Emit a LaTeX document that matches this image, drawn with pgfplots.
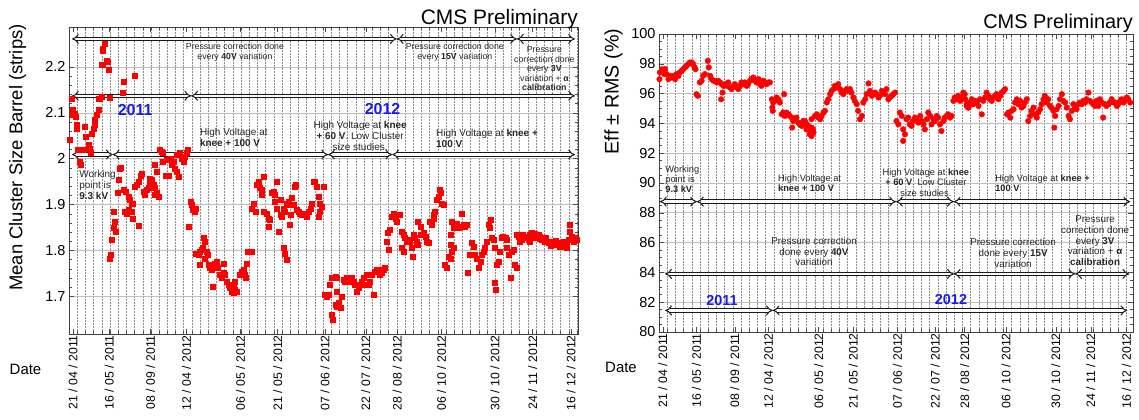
\documentclass[border=0pt]{standalone}
\usepackage{fontspec}
\setmainfont{Liberation Sans}
\usepackage{pgfplots}
\pgfplotsset{compat=1.18}
\usetikzlibrary{arrows.meta}
\definecolor{gridgray}{RGB}{140,140,140}
\definecolor{yearblue}{RGB}{25,25,240}
\tikzset{
 dbl/.style={draw=black!90, double=white, double distance=2.4bp, line width=1bp, {Implies}-{Implies}},
 annL/.style={font=\fontsize{8.8}{9.6}\selectfont, align=center, text=black!85, inner sep=0pt},
 annLH/.style={font=\fontsize{10}{11}\selectfont, align=left, text=black!85, inner sep=0pt},
 annR/.style={font=\fontsize{9.9}{10.8}\selectfont, align=center, text=black!85, inner sep=0pt},
 annRH/.style={font=\fontsize{9.3}{10.3}\selectfont, align=left, text=black!85, inner sep=0pt},
 yearL/.style={font=\fontsize{16}{16}\selectfont\bfseries, text=yearblue, inner sep=0pt},
 yearR/.style={font=\fontsize{14.5}{14.5}\selectfont\bfseries, text=yearblue, inner sep=0pt},
}
\pgfplotsset{
 panel/.style={
  scale only axis, clip=false,
  xmin=0, xmax=1000,
  xtick={8,79,160,231,337,410,503,583,645,732,837,911,986},
  xticklabels={21 / 04 / 2011,16 / 05 / 2011,08 / 09 / 2011,12 / 04 / 2012,06 / 05 / 2012,21 / 05 / 2012,07 / 06 / 2012,22 / 07 / 2012,28 / 08 / 2012,06 / 10 / 2012,30 / 10 / 2012,24 / 11 / 2012,16 / 12 / 2012},
  xticklabel style={rotate=90, anchor=east, font=\fontsize{12.3}{12.3}\selectfont, inner sep=1bp},
  yticklabel style={font=\fontsize{14.5}{14.5}\selectfont},
  /pgf/number format/assume math mode=true,
  xminorgrids, ymajorgrids,
  minor x grid style={gridgray, dash pattern=on 1.5bp off 1.5bp, line width=0.5bp},
  major y grid style={black!25, line width=0.6bp},
  axis line style={black!75, line width=0.8bp},
  major tick length=5bp, minor tick length=3bp,
  tick style={black!70, line width=0.5bp},
 }
}
\begin{document}
\begin{tikzpicture}
\path[use as bounding box] (0,0) rectangle (1139bp,420bp);

% ---------------- left panel ----------------
\begin{axis}[panel,
  at={(69bp,86bp)}, anchor=south west, width=509bp, height=307bp,
  ymin=1.618, ymax=2.287,
  ytick={1.7,1.8,1.9,2.0,2.1,2.2},
  minor y tick num=4,
  minor xtick={16.1,32.2,...,1000},
]
\addplot[only marks, mark=square*, mark size=2.5bp, color=red] table {
x y
2 2.041
5 2.131
7 2.106
8 2.095
12 2.099
14 2.091
15 2.073
16 2.066
18 2.019
22 2.019
25 2.019
22 1.993
23 1.986
28 2.019
31 2.070
33 2.048
38 2.030
41 2.022
43 2.012
45 2.055
48 2.066
50 2.073
51 2.084
54 2.095
58 2.106
58 2.131
61 2.131
64 2.135
79 2.133
64 2.204
67 2.204
66 2.236
71 2.251
67 2.240
74 2.214
77 2.211
78 2.194
105 2.144
107 2.167
130 2.180
82 1.791
79 1.783
84 1.823
87 1.849
90 1.863
92 1.841
88 1.885
97 1.954
100 1.979
102 1.980
95 1.925
107 1.932
112 1.928
110 1.885
113 1.881
117 1.888
123 1.885
125 1.870
117 1.917
120 1.910
123 1.903
126 1.903
130 1.939
133 1.943
136 1.950
140 1.964
143 1.968
137 1.854
146 1.928
149 1.921
153 1.932
156 1.936
159 1.943
162 1.939
166 1.943
169 1.936
169 1.921
172 1.925
176 1.917
158 1.957
162 1.954
169 1.986
173 1.972
179 2.019
182 2.015
185 2.012
189 1.964
192 1.964
195 1.964
185 1.993
192 1.997
199 2.001
205 1.993
202 1.986
208 1.979
211 1.972
215 1.961
211 2.008
218 2.012
221 2.001
225 1.993
228 2.004
231 2.012
234 2.019
239 1.907
241 1.899
244 1.888
246 1.885
248 1.892
236 1.852
264 1.827
267 1.820
263 1.805
249 1.794
254 1.791
257 1.798
261 1.801
270 1.798
272 1.791
267 1.783
256 1.769
274 1.769
277 1.762
280 1.758
284 1.765
287 1.772
290 1.776
282 1.722
293 1.762
297 1.747
300 1.740
303 1.751
306 1.747
310 1.733
313 1.725
316 1.718
320 1.711
323 1.707
326 1.733
303 1.772
320 1.725
323 1.718
326 1.714
330 1.711
336 1.747
339 1.754
343 1.758
346 1.747
348 1.740
349 1.772
352 1.798
356 1.798
359 1.798
359 1.892
362 1.903
366 1.885
369 1.943
372 1.950
375 1.936
379 1.921
382 1.961
379 1.932
382 1.885
388 1.881
392 1.870
395 1.867
392 1.852
398 1.925
402 1.928
405 1.921
408 1.950
405 1.907
408 1.892
415 1.878
418 1.874
411 1.841
421 1.892
424 1.885
428 1.903
431 1.907
434 1.899
421 1.805
424 1.794
428 1.780
434 1.856
436 1.878
444 1.939
446 1.943
441 1.899
447 1.888
451 1.885
454 1.881
457 1.878
461 1.881
464 1.878
467 1.874
470 1.885
474 1.892
477 1.903
480 1.950
483 1.950
487 1.939
490 1.917
493 1.903
497 1.896
500 1.939
490 1.874
492 1.885
415 1.910
438 1.914
503 1.704
506 1.700
510 1.704
513 1.725
516 1.740
523 1.743
526 1.740
516 1.660
519 1.649
523 1.682
526 1.678
529 1.686
533 1.675
526 1.711
536 1.700
539 1.736
542 1.733
546 1.740
549 1.733
552 1.736
555 1.740
559 1.733
562 1.725
565 1.711
569 1.718
572 1.725
575 1.733
578 1.740
582 1.725
585 1.747
588 1.725
591 1.733
595 1.747
598 1.704
601 1.754
605 1.758
608 1.758
611 1.747
614 1.751
618 1.758
621 1.762
624 1.820
627 1.838
631 1.845
629 1.801
634 1.874
637 1.881
641 1.870
644 1.863
647 1.878
650 1.878
654 1.841
657 1.834
660 1.827
654 1.805
657 1.798
664 1.820
667 1.823
670 1.820
673 1.805
675 1.787
677 1.834
680 1.827
683 1.820
686 1.812
690 1.834
686 1.863
690 1.852
693 1.834
696 1.838
700 1.830
703 1.820
706 1.816
709 1.863
713 1.856
716 1.878
719 1.885
716 1.870
722 1.910
726 1.917
729 1.932
731 1.925
732 1.903
736 1.899
739 1.769
742 1.762
745 1.787
749 1.783
749 1.834
752 1.863
755 1.849
758 1.856
762 1.859
765 1.849
768 1.852
772 1.881
775 1.856
778 1.852
781 1.856
749 1.812
752 1.798
755 1.805
783 1.751
788 1.791
791 1.816
795 1.809
798 1.791
801 1.783
804 1.762
808 1.776
811 1.791
814 1.798
817 1.805
821 1.820
824 1.856
826 1.849
829 1.867
831 1.827
834 1.823
837 1.805
837 1.729
839 1.714
840 1.769
844 1.776
847 1.798
850 1.827
853 1.830
857 1.827
860 1.823
860 1.805
863 1.791
867 1.740
870 1.798
873 1.801
876 1.769
880 1.762
880 1.834
883 1.830
886 1.827
890 1.823
893 1.827
896 1.830
899 1.827
903 1.823
906 1.834
909 1.838
912 1.830
916 1.827
919 1.827
922 1.834
925 1.830
929 1.823
932 1.823
935 1.820
939 1.820
942 1.816
945 1.820
948 1.816
952 1.820
955 1.812
958 1.816
962 1.812
965 1.809
968 1.812
971 1.820
975 1.809
978 1.805
981 1.823
984 1.841
984 1.856
988 1.830
991 1.820
994 1.827
998 1.823
885 1.820
891 1.834
905 1.820
914 1.836
924 1.825
937 1.827
946 1.811
957 1.821
966 1.818
977 1.814
};
% annotation arrows
\draw[dbl] (6,2.261) -- (644,2.261);
\draw[dbl] (644,2.261) -- (880,2.261);
\draw[dbl] (880,2.261) -- (994,2.261);
\draw[dbl] (6,2.137) -- (240,2.137);
\draw[dbl] (240,2.137) -- (994,2.137);
\draw[dbl] (6,2.009) -- (86,2.009);
\draw[dbl] (86,2.009) -- (509,2.009);
\draw[dbl] (509,2.009) -- (635,2.009);
\draw[dbl] (635,2.009) -- (994,2.009);
\node[annL] at (326,2.2315) {Pressure correction done\\every \textbf{40V} variation};
\node[annL] at (758,2.2315) {Pressure correction done\\every \textbf{15V} variation};
\node[annL] at (934,2.196) {Pressure\\correction done\\every \textbf{3V}\\variation + \textbf{α}\\\textbf{calibration}};
\node[yearL] at (130,2.1065) {2011};
\node[yearL] at (616,2.109) {2012};
\node[annLH, anchor=west] at (257,2.0467) {High Voltage at\\\textbf{knee + 100 V}};
\node[annLH, align=center] at (572,2.05) {High Voltage at \textbf{knee}\\\textbf{+ 60 V}. Low Cluster\\size studies.};
\node[annLH, anchor=west] at (721,2.0446) {High Voltage at \textbf{knee +}\\\textbf{100 V}};
\node[annLH, anchor=west] at (20,1.9435) {Working\\point is\\\textbf{9.3 kV}};
\end{axis}

% ---------------- right panel ----------------
\begin{axis}[panel,
  at={(659bp,88bp)}, anchor=south west, width=474bp, height=298bp,
  ymin=80, ymax=100,
  ytick={80,82,...,100},
  minor y tick num=3,
  minor xtick={17.3,34.6,...,1000},
]
\addplot[only marks, mark=*, mark size=2.8bp, color=red] table {
x y
1 96.97
2 97.42
6 97.64
9 97.53
11 97.31
13 97.64
16 97.31
20 96.97
23 97.19
27 97.08
30 97.19
34 96.97
37 97.31
41 97.19
44 97.42
48 97.53
51 97.64
55 97.76
58 97.87
62 97.98
65 98.09
69 98.09
72 97.98
75 97.76
77 97.64
79 95.96
82 95.85
86 96.75
90 96.86
93 97.19
97 97.31
103 98.20
105 97.76
108 97.19
111 96.97
115 96.86
118 96.86
122 96.75
125 96.86
129 96.75
132 96.63
131 95.62
134 96.07
136 96.52
139 96.63
143 96.52
146 96.75
150 96.41
153 96.30
157 96.52
160 96.63
164 96.41
167 96.30
171 96.52
174 96.75
178 96.63
181 96.75
185 96.52
188 96.63
192 96.86
195 96.97
199 97.08
202 96.86
206 96.75
210 96.97
213 96.63
216 96.52
220 96.86
224 96.75
227 96.63
231 96.75
234 96.75
238 95.62
241 95.40
240 94.84
239 95.06
245 95.51
248 95.74
252 95.62
255 95.40
259 94.61
262 94.73
264 95.96
266 94.50
269 94.73
273 94.61
276 94.50
280 94.39
281 93.72
283 94.16
287 94.28
290 94.39
294 94.05
297 93.94
301 93.83
304 94.16
308 93.94
311 93.60
315 93.72
318 93.27
322 94.28
325 93.60
308 94.16
312 93.94
315 93.83
319 93.60
322 93.72
322 93.15
326 93.38
329 94.50
333 94.61
336 94.39
340 94.28
343 94.50
347 94.73
350 94.84
354 95.40
357 95.62
361 95.96
364 96.18
368 96.30
371 96.52
375 96.41
378 96.63
382 96.30
385 96.07
389 95.96
392 96.18
396 96.30
399 96.18
403 96.30
406 96.07
410 95.74
413 95.51
417 95.29
420 94.84
424 94.28
428 94.50
431 95.40
435 95.62
438 95.96
442 96.68
445 96.18
449 95.85
452 95.96
456 96.07
459 95.96
463 95.74
466 95.85
470 96.18
473 96.07
477 95.96
480 96.30
484 95.62
487 95.74
491 95.85
494 95.96
498 96.07
501 94.16
505 93.94
508 94.73
512 94.50
515 93.60
515 92.82
519 93.27
522 94.28
526 94.39
529 93.94
533 93.83
536 94.16
540 94.39
543 94.28
547 94.05
551 94.50
554 94.16
558 93.94
561 93.60
565 94.28
568 94.73
572 94.50
575 93.94
579 94.28
582 94.16
586 94.50
589 94.39
593 93.94
596 93.49
600 94.16
603 94.39
607 94.50
610 94.61
614 94.39
617 94.50
621 95.51
624 95.74
628 95.62
631 95.85
635 95.51
638 95.74
642 96.07
645 95.96
649 95.17
652 95.06
656 95.40
660 95.29
663 95.51
646 95.62
649 95.29
653 95.06
656 95.40
660 95.62
663 95.29
667 95.51
670 95.40
674 95.17
677 95.62
681 94.61
684 95.51
688 95.74
691 96.07
695 95.85
698 95.62
702 95.51
705 95.74
709 95.85
712 95.96
716 95.62
720 95.85
723 96.07
727 96.18
730 96.30
734 94.61
737 94.73
741 94.39
744 94.84
748 94.95
751 95.40
755 95.62
758 95.29
762 95.51
765 95.06
769 95.17
772 95.40
776 95.62
779 94.16
783 94.50
786 94.84
790 95.06
793 94.61
797 94.39
800 94.73
804 94.95
807 95.29
811 95.62
814 95.85
818 95.40
821 95.62
825 95.17
828 95.06
832 94.84
834 93.72
836 94.50
839 94.95
843 95.17
846 95.62
850 95.96
853 95.51
857 95.40
860 95.06
864 94.50
867 94.28
871 94.84
874 95.29
878 95.06
881 94.95
885 95.29
888 95.40
892 95.29
895 95.51
899 95.40
902 95.62
906 96.07
909 95.51
913 95.40
916 95.29
920 95.17
923 95.51
927 95.17
930 95.62
934 95.40
937 94.39
941 95.29
944 95.17
948 95.29
951 95.40
955 95.62
959 95.40
962 95.40
966 95.17
969 95.29
973 95.51
976 95.62
980 95.40
983 95.62
987 95.74
990 95.62
994 95.40
};
\draw[dbl] (2,88.75) -- (80,88.75);
\draw[dbl] (80,88.75) -- (500,88.75);
\draw[dbl] (500,88.75) -- (622,88.75);
\draw[dbl] (622,88.75) -- (994,88.75);
\draw[dbl] (13,83.9) -- (622,83.9);
\draw[dbl] (622,83.9) -- (878,83.9);
\draw[dbl] (878,83.9) -- (992,83.9);
\draw[dbl] (13,81.45) -- (240,81.45);
\draw[dbl] (240,81.45) -- (988,81.45);
\node[annR] at (327,85.39) {Pressure correction\\done every \textbf{40V}\\variation};
\node[annR] at (747,85.32) {Pressure correction\\done every \textbf{15V}\\variation};
\node[annR] at (920,86.13) {Pressure\\correction done\\every \textbf{3V}\\variation + \textbf{α}\\\textbf{calibration}};
\node[yearR] at (133,82.09) {2011};
\node[yearR] at (616,82.2) {2012};
\node[annRH, anchor=west] at (13,90.24) {Working\\point is\\\textbf{9.3 kV}};
\node[annRH, anchor=west] at (251,89.97) {High Voltage at\\\textbf{knee + 100 V}};
\node[annRH, align=center] at (563,90.03) {High Voltage at \textbf{knee}\\\textbf{+ 60 V}. Low Cluster\\size studies.};
\node[annRH, anchor=west] at (709,89.97) {High Voltage at \textbf{knee +}\\\textbf{100 V}};
\end{axis}

% ---------------- outer labels ----------------
\node[font=\fontsize{18.5}{18.5}\selectfont, rotate=90, inner sep=0pt] at (17.5bp,262.5bp) {Mean Cluster Size Barrel (strips)};
\node[font=\fontsize{19.8}{19.8}\selectfont, rotate=90, inner sep=0pt] at (613.5bp,328.5bp) {Eff ± RMS (\%)};
\node[font=\fontsize{15}{15}\selectfont, inner sep=0pt] at (25.5bp,51bp) {Date};
\node[font=\fontsize{15}{15}\selectfont, inner sep=0pt] at (621bp,53bp) {Date};
\node[font=\fontsize{21}{21}\selectfont, anchor=base east, inner sep=0pt] at (578bp,395bp) {CMS Preliminary};
\node[font=\fontsize{20}{20}\selectfont, anchor=base east, inner sep=0pt] at (1133bp,391bp) {CMS Preliminary};
\end{tikzpicture}
\end{document}
